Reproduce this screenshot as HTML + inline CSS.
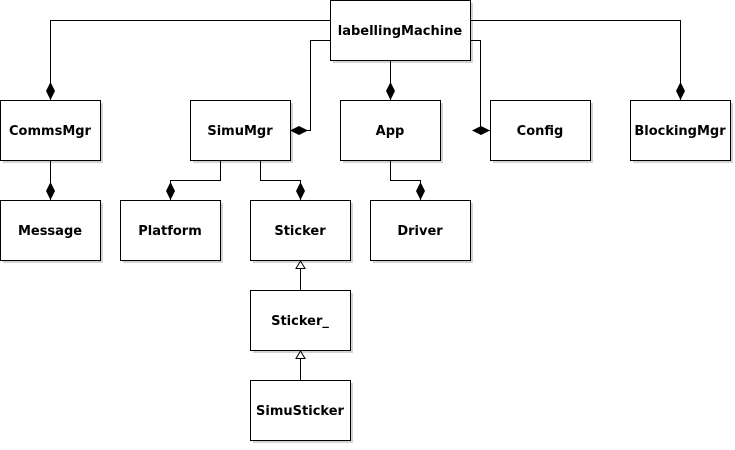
<!DOCTYPE html>
<html><head><style>body{margin:0;background:#fff}</style></head><body>
<svg width="735" height="445" xmlns="http://www.w3.org/2000/svg" font-family="DejaVu Sans, Liberation Sans, sans-serif" font-weight="bold" font-size="13">
<g fill="#d3d3d3">
<rect x="333" y="3" width="140" height="60"/>
<rect x="3" y="103" width="100" height="60"/>
<rect x="193" y="103" width="100" height="60"/>
<rect x="343" y="103" width="100" height="60"/>
<rect x="493" y="103" width="100" height="60"/>
<rect x="633" y="103" width="100" height="60"/>
<rect x="3" y="203" width="100" height="60"/>
<rect x="123" y="203" width="100" height="60"/>
<rect x="253" y="203" width="100" height="60"/>
<rect x="373" y="203" width="100" height="60"/>
<rect x="253" y="293" width="100" height="60"/>
<rect x="253" y="383" width="100" height="60"/>
</g>
<g fill="#fff" stroke="#000" stroke-width="1">
<rect x="330.5" y="0.5" width="140" height="60"/>
<rect x="0.5" y="100.5" width="100" height="60"/>
<rect x="190.5" y="100.5" width="100" height="60"/>
<rect x="340.5" y="100.5" width="100" height="60"/>
<rect x="490.5" y="100.5" width="100" height="60"/>
<rect x="630.5" y="100.5" width="100" height="60"/>
<rect x="0.5" y="200.5" width="100" height="60"/>
<rect x="120.5" y="200.5" width="100" height="60"/>
<rect x="250.5" y="200.5" width="100" height="60"/>
<rect x="370.5" y="200.5" width="100" height="60"/>
<rect x="250.5" y="290.5" width="100" height="60"/>
<rect x="250.5" y="380.5" width="100" height="60"/>
</g>
<g fill="none" stroke="#000">
<polyline points="330,20.5 50.5,20.5 50.5,100"/>
<polyline points="470,20.5 680.5,20.5 680.5,100"/>
<polyline points="330,40.5 310.5,40.5 310.5,130.5 290,130.5"/>
<polyline points="470,40.5 480.5,40.5 480.5,130.5 490,130.5"/>
<line x1="390.5" y1="60" x2="390.5" y2="100"/>
<line x1="50.5" y1="160" x2="50.5" y2="200"/>
<polyline points="220.5,160 220.5,180.5 170.5,180.5 170.5,200"/>
<polyline points="260.5,160 260.5,180.5 300.5,180.5 300.5,200"/>
<polyline points="390.5,160 390.5,180.5 420.5,180.5 420.5,200"/>
<line x1="300.5" y1="260" x2="300.5" y2="290"/>
<line x1="300.5" y1="350" x2="300.5" y2="380"/>
</g>
<g fill="#000">
<polygon points="50.5,100 46,91 50.5,82 55,91"/>
<polygon points="680.5,100 676,91 680.5,82 685,91"/>
<polygon points="390.5,100 386,91 390.5,82 395,91"/>
<polygon points="290,130.5 299,126 308,130.5 299,135"/>
<polygon points="490,130.5 481,126 472,130.5 481,135"/>
<polygon points="50.5,200 46,191 50.5,182 55,191"/>
<polygon points="170.5,200 166,191 170.5,182 175,191"/>
<polygon points="300.5,200 296,191 300.5,182 305,191"/>
<polygon points="420.5,200 416,191 420.5,182 425,191"/>
</g>
<g fill="#fff" stroke="#000">
<polygon points="300.5,261 296,268.5 305,268.5"/>
<polygon points="300.5,351 296,358.5 305,358.5"/>
</g>
<g text-anchor="middle" fill="#000">
<text x="400" y="35">labellingMachine</text>
<text x="50" y="135">CommsMgr</text>
<text x="240" y="135">SimuMgr</text>
<text x="390" y="135">App</text>
<text x="540" y="135">Config</text>
<text x="680" y="135">BlockingMgr</text>
<text x="50" y="235">Message</text>
<text x="170" y="235">Platform</text>
<text x="300" y="235">Sticker</text>
<text x="420" y="235">Driver</text>
<text x="300" y="325">Sticker_</text>
<text x="300" y="415">SimuSticker</text>
</g>
</svg>
</body></html>
